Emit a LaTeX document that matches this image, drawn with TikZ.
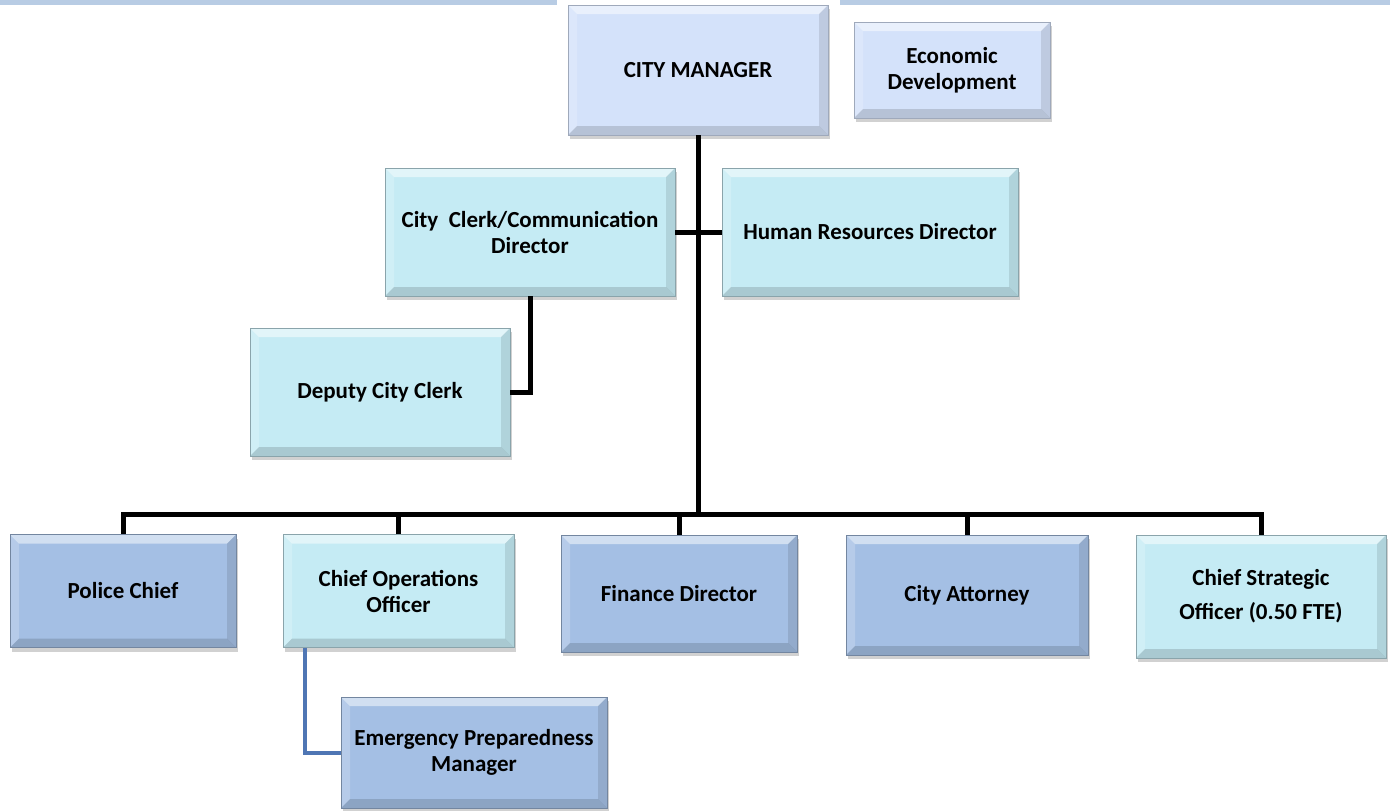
\documentclass[tikz,border=0pt]{standalone}
\usepackage{fontspec}
\setmainfont{Carlito}
\usetikzlibrary{shadows}

\definecolor{mgrblue}{RGB}{212,226,250}
\definecolor{staffcyan}{RGB}{197,235,244}
\definecolor{deptblue}{RGB}{164,191,228}
\definecolor{topbar}{RGB}{184,204,228}
\definecolor{sublink}{RGB}{79,118,180}

\tikzset{
  post/.style={rectangle, align=center, inner sep=2pt,
    font=\bfseries\fontsize{23}{26}\selectfont,
    drop shadow={shadow xshift=2pt,shadow yshift=-4pt,opacity=.3,fill=black!60},
    path picture={
      \fill[white,opacity=.5] (path picture bounding box.north west) -- (path picture bounding box.north east)
        -- ([xshift=-9pt,yshift=-9pt]path picture bounding box.north east) -- ([xshift=9pt,yshift=-9pt]path picture bounding box.north west) -- cycle;
      \fill[white,opacity=.2] (path picture bounding box.north west) -- (path picture bounding box.south west)
        -- ([xshift=9pt,yshift=9pt]path picture bounding box.south west) -- ([xshift=9pt,yshift=-9pt]path picture bounding box.north west) -- cycle;
      \fill[black,opacity=.1] (path picture bounding box.north east) -- (path picture bounding box.south east)
        -- ([xshift=-9pt,yshift=9pt]path picture bounding box.south east) -- ([xshift=-9pt,yshift=-9pt]path picture bounding box.north east) -- cycle;
      \fill[black,opacity=.14] (path picture bounding box.south west) -- (path picture bounding box.south east)
        -- ([xshift=-9pt,yshift=9pt]path picture bounding box.south east) -- ([xshift=9pt,yshift=9pt]path picture bounding box.south west) -- cycle;
    }},
  mgrpost/.style={post, fill=mgrblue, draw=mgrblue!75!black, line width=.6pt},
  staffpost/.style={post, fill=staffcyan, draw=staffcyan!70!black, line width=.6pt},
  deptpost/.style={post, fill=deptblue, draw=deptblue!70!black, line width=.6pt},
  link/.style={line width=5pt, black},
  bluelink/.style={line width=4pt, sublink}
}

\begin{document}
\begin{tikzpicture}[x=1pt,y=-1pt]

\useasboundingbox (0,0) rectangle (1390,811);
\fill[topbar] (0,0) rectangle (557,5);
\fill[topbar] (840,0) rectangle (1390,5);

% top level
\node[mgrpost, minimum width=260pt, minimum height=130pt] (mgr) at (698,70) {CITY MANAGER};
\node[mgrpost, minimum width=196pt, minimum height=96pt] (econ) at (952,70) {Economic\\Development};

% staff
\node[staffpost, minimum width=290pt, minimum height=128pt] (clerk) at (530,232) {City\ \ Clerk/Communication\\Director};
\node[staffpost, minimum width=296pt, minimum height=128pt] (hr) at (870,232) {Human Resources Director};
\node[staffpost, minimum width=260pt, minimum height=128pt] (deputy) at (380,392) {Deputy City Clerk};

% departments
\node[deptpost, minimum width=226pt, minimum height=113pt] (police) at (123,591) {Police Chief};
\node[staffpost, minimum width=231pt, minimum height=113pt] (coo) at (398.5,591) {Chief Operations\\Officer};
\node[deptpost, minimum width=236pt, minimum height=117pt] (finance) at (679,593.5) {Finance Director};
\node[deptpost, minimum width=242pt, minimum height=120pt] (attorney) at (967,595) {City Attorney};
\node[staffpost, minimum width=250pt, minimum height=123pt] (cso) at (1261,596.5) {Chief Strategic\\[8pt]Officer (0.50 FTE)};
\node[deptpost, minimum width=266pt, minimum height=111pt] (epm) at (474,752.5) {Emergency Preparedness\\Manager};

\coordinate (bus) at (698,514);

% connectors
\draw[link] (mgr.south) -- (bus);
\draw[link] (clerk.east) -- (hr.west);
\draw[link] (clerk.south) |- (deputy.east);
\draw[link] (police.north) |- (bus) -| (cso.north);
\draw[link] (coo.north) -- (coo.north |- bus);
\draw[link] (finance.north) -- (finance.north |- bus);
\draw[link] (attorney.north) -- (attorney.north |- bus);
\draw[bluelink] ([xshift=-94pt]coo.south) |- (epm.west);

\end{tikzpicture}
\end{document}
